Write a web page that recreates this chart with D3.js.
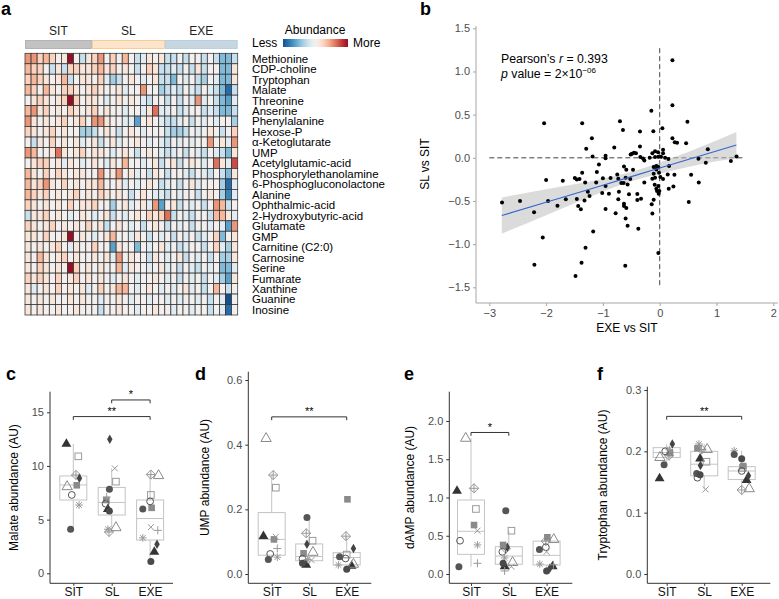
<!DOCTYPE html>
<html><head><meta charset="utf-8">
<script src="https://cdn.jsdelivr.net/npm/d3@7"></script>
<style>body{margin:0;background:#fff} svg{display:block;font-family:"Liberation Sans",Arial,Helvetica,sans-serif}</style>
</head><body><svg id="fig" width="779" height="599"></svg>
<script>
// ---------------- DATA ----------------
const groups = ["SIT", "SL", "EXE"];
const groupSizes = [11, 12, 12];
const metabolites = ["Methionine","CDP-choline","Tryptophan","Malate","Threonine","Anserine","Phenylalanine","Hexose-P","\u03b1-Ketoglutarate","UMP","Acetylglutamic-acid","Phosphorylethanolamine","6-Phosphogluconolactone","Alanine","Ophthalmic-acid","2-Hydroxybutyric-acid","Glutamate","GMP","Carnitine (C2:0)","Carnosine","Serine","Fumarate","Xanthine","Guanine","Inosine"];
const heatValues = [
 [2,2,1,1.5,1,0,0.5,4,0,-1,0.5, 1,2,0,1,0,1.5,0,-1,-0.5,0.5,0,0.5, -1,-1,0,-1,0,0,-1,0,-1,-2,-2,-1],
 [1.5,1,1,0,-1,0.5,-1,1,1,0.5,0.5, 1,1.5,0.5,1,0,0.5,0,-1,0,1,0.5,-1, -1,-0.5,-1,0,-1,0.5,-1,0,0,-2,-2,0.5],
 [1,1.5,1,0.5,0,0.5,1.5,-1,0,0.5,0.5, 0,1,-0.5,-1.5,-1,0,0.5,0,-0.5,0,0.5,-1, -1,-2,0,-0.5,0,-1,-1.5,0,-0.5,-2,-2,0.5],
 [1.5,1,0,1.5,0.5,0,1,1,0.5,0,0.5, 1,0.5,0,0,0.5,-0.5,0,0,2,0,0,-1.5, -1,-0.5,-1,0,-0.5,-1,0,-0.5,-1,-2,-3.5,-1],
 [0,0.5,1,0.5,0,0.5,1,4,1,0,0.5, 0.5,0,-0.5,0,0.5,0,0.5,0,-0.5,-1,0,0, -1,0,-1,0,-0.5,2,-0.5,0,-1,-2,-2.5,-0.5],
 [1.5,2,0.5,1,0,0.5,0,1,0.5,0,0.5, 1,0,0.5,0,0,-0.5,0,0,-0.5,0.5,2.5,-0.5, -0.5,0,-1,-0.5,0,0,-1,-0.5,-1,-2,-2,-1],
 [2,0.5,0,0.5,0,0.5,1,0,0.5,1,0, 2,2,0.5,0,0,-0.5,-0.5,-2.5,0,0.5,0,-0.5, -1,-1,-0.5,0,-1,0,-0.5,0,-0.5,0,0,-1.5],
 [1,0.5,0,0.5,1,0,0.5,0,0,-1.5,-1.5, -1,0,0.5,0,-1,0,0.5,0,-0.5,0,0,0, -1,-1.5,-1.5,-1,0,-0.5,0,0.5,0,-1,0,1],
 [0,-1,0.5,0,1,0,0.5,0,0.5,-0.5,0, 0.5,-1,0,0.5,-0.5,0,0,0.5,0,-0.5,0,-0.5, -1,0,-0.5,0,-0.5,0,0,2,0,0.5,-0.5,2],
 [2,1.5,0,0,0.5,2.5,0.5,0,0.5,1,0, 0.5,0.5,0,-0.5,0,0.5,0,-1,0,0.5,0,-0.5, -1,-0.5,0,-1,0,-0.5,-1,0,-0.5,-1,-2,0.5],
 [0,0.5,1,1,0,0.5,-0.5,0.5,0,-0.5,0, 0.5,0,-0.5,0.5,0,1.5,0,0,-0.5,0,0.5,-1, 0,0.5,-1,0,0.5,0,-0.5,0,2.5,0.5,-0.5,3],
 [1.5,0.5,0,1,0,1,0.5,0,0.5,0.5,0, 0,2,0,0.5,2,0,0.5,-0.5,0,-1,0.5,0, -1,0,0,-0.5,-1,0,-0.5,-1,0,-1,-2,0.5],
 [1.5,0.5,1,2,0.5,0,1,0,0.5,0,0.5, 0.5,1.5,0,0,0.5,-0.5,0,-0.5,0,0.5,0,-1, -0.5,0,-1,0,0.5,-0.5,0,0,0,-1.5,-3.5,-0.5],
 [1.5,1,0.5,1,0,0.5,0,0.5,1,0,0.5, 0,1,0.5,0,0.5,0,-1,0,0.5,0,-0.5,-0.5, -1,0,-0.5,0,0,-1,0,0.5,0,-1.5,-3,-0.5],
 [1,0.5,0,0.5,0,0.5,0,1,0,0.5,0.5, 1,0,0,-1.5,0,0.5,-0.5,0,0.5,-0.5,2,-2.5, 0,0.5,-1,0,-0.5,0,-1,0,2,1.5,-1,0],
 [-1,0.5,0.5,1,0,0.5,0,-0.5,0,0.5,0, -0.5,0,0.5,-1,0,-0.5,0,0.5,0,1,0.5,1, 2.5,-1,0,-0.5,-1,0,0,-1,1.5,1.5,0.5,-0.5],
 [1,0.5,0,0.5,1,0,0.5,0,0.5,0,1, 0,0.5,-1,0,0.5,0,-0.5,0,-1,0,0.5,0, -1,0,-0.5,0,-1,0,0,-0.5,0,-0.5,-2.5,2],
 [0.5,0.5,0,1,0,0,0.5,4,0,0.5,0, -0.5,0,0.5,1.5,0,0,-0.5,0.5,0,-1,0,-0.5, 0,-1,0,-0.5,0,-1,-0.5,0,1,-2,0,0.5],
 [0.5,0,0.5,0,0.5,1,0,-0.5,0.5,0,0, 1,0,0,-2.5,0.5,0,0,-2,0,-0.5,0,0.5, -0.5,0,-1,-0.5,0,0,-1,0,1,-0.5,-1.5,0.5],
 [0.5,0,1.5,0.5,0,0.5,1,0,0.5,0,0, 0.5,0,0.5,-0.5,2,0,0.5,0,0,-1,0.5,0, -0.5,0,0.5,-1,0,-0.5,0,-1,0,-1.5,-1.5,0.5],
 [0.5,0,1,0.5,0,0.5,0,4,1,0,0.5, 0,0.5,0,0,1.5,-0.5,0.5,0,0,-0.5,0,0.5, -0.5,0,-1,0,-0.5,-1,0,-0.5,0,-2,-2,-0.5],
 [1,0.5,1,0.5,0,1,0,0.5,1,0,0.5, 0,0.5,0,-0.5,0,0.5,0,-0.5,0,0,0.5,0, -0.5,0,-1,0,-0.5,0,-1,0,-0.5,-1.5,-2.5,0.5],
 [0.5,-0.5,0,0.5,0,1,0,0.5,0,0.5,-0.5, 0,1,0,0.5,1.5,1.5,0,-0.5,0,0.5,0,-0.5, 0,-0.5,0,0.5,-0.5,0,-1,0,1.5,0,-1,0],
 [0.5,0,0.5,0,0.5,0,0,0.5,0,0.5,0, 0,-0.5,0,0,0.5,0,-0.5,0,0,-0.5,0,0, -0.5,0,-0.5,0,0,-0.5,0,-1,0,-0.5,-4,0],
 [0.5,0,0.5,0,0,0.5,0,0,0.5,0,0, 0,-1,0,0,0.5,0,0,-0.5,0,0,0.5,0, 0,-0.5,0,0,-0.5,0,0,-1,0,-0.5,-3.5,0]
];

// scatter (EXE vs SIT, SL vs SIT)
const scatterX = [0.224,0.224,-0.147,-2.035,-1.365,-0.70,0.488,-0.647,-0.347,-0.112,0.047,-1.194,0.224,0.265,0.306,0.465,-1.294,-0.8,-0.347,0.847,-0.488,-0.453,-0.418,-0.512,-0.129,-0.082,-0.029,0.059,0.059,-1.182,-0.953,-0.953,-0.341,-0.176,-0.082,-0.024,0.024,0.094,0.153,-0.271,-0.294,-1.07,-0.629,-0.588,-0.47,-0.106,-0.059,0.165,0.682,0.812,1.253,1.353,-1.106,-1.365,-2.0,-1.706,-1.494,-1.459,-1.412,-1.312,-1.118,-1.0,-0.953,-0.865,-0.747,-0.729,-0.676,-0.635,-0.565,-0.6,-0.518,-0.271,-0.129,-0.106,-0.082,-0.059,-0.024,-0.012,0.012,0.059,-0.088,-0.024,-0.059,-0.047,-0.006,-0.018,-0.106,-0.141,-0.129,0.141,0.259,0.159,0.241,0.553,0.688,0.512,-1.265,-1.235,-1.012,-0.894,-0.718,-0.541,-0.394,-0.394,-0.329,-0.729,-0.629,-0.629,-0.588,-0.776,-0.953,-0.6,-0.565,-0.376,-2.776,-2.459,-1.965,-2.212,-1.8,-1.653,-1.459,-1.324,-1.435,-1.388,-1.171,-2.059,-1.306,-1.376,-2.206,-1.482,-0.606,-0.024];
const scatterY = [1.131,0.608,0.546,0.40,0.40,0.423,0.419,0.323,0.304,0.308,0.342,0.227,0.227,0.181,0.173,0.169,0.104,0.119,0.131,0.10,0.046,0.058,0.054,0.038,0.054,0.077,0.065,0.092,0.054,0.015,0.023,-0.004,0.008,0.0,0.008,0.012,0.012,0.0,-0.015,-0.03,-0.008,-0.077,-0.1,-0.138,-0.138,-0.108,-0.096,-0.096,-0.012,-0.058,-0.038,0.015,-0.165,-0.173,-0.258,-0.265,-0.235,-0.25,-0.246,-0.285,-0.285,-0.238,-0.327,-0.235,-0.192,-0.242,-0.292,-0.292,-0.308,-0.231,-0.246,-0.285,-0.242,-0.185,-0.231,-0.135,-0.108,-0.173,-0.223,-0.246,-0.312,-0.327,-0.358,-0.385,-0.385,-0.415,-0.485,-0.538,-0.646,-0.192,-0.196,-0.358,-0.331,-0.196,-0.285,-0.512,-0.392,-0.442,-0.408,-0.415,-0.392,-0.423,-0.419,-0.488,-0.473,-0.481,-0.531,-0.558,-0.581,-0.642,-0.592,-0.704,-0.788,-0.823,-0.519,-0.5,-0.5,-0.631,-0.554,-0.481,-0.477,-0.496,-0.558,-0.596,-0.854,-0.923,-1.042,-1.215,-1.238,-1.369,-1.25,-1.104];
const fitX  = [-2.78,-2,-1,-0.5,0,1,1.35];
const fitY  = [-0.669,-0.515,-0.317,-0.218,-0.119,0.079,0.148];
const fitLo = [-0.879,-0.665,-0.392,-0.273,-0.184,-0.041,-0.002];
const fitHi = [-0.459,-0.365,-0.242,-0.163,-0.054,0.199,0.298];

// box panels: one value per subject (shape), null = not shown
const subjects = ["triF","sqO","dmP","dmF","triO","sqF","cirO","ast","cirF","x","plus","cirF2"];
const malateSIT = [12.05,10.9,9.16,8.85,8.07,8.2,7.3,6.36,4.1,null,null,null];
const malateSL  = [5.97,8.54,3.85,12.5,4.25,6.83,6.49,4.1,7.82,9.78,7.1,5.8];
const malateEXE = [2.0,7.3,9.2,2.7,9.1,6.1,6.7,3.3,6.0,4.3,4.0,1.1];
const malateJitter = [[-0.18,0.13,0.07,0.16,-0.16,0.09,-0.04,0.15,-0.07,0,0,0],[-0.1,0.11,-0.07,-0.05,0.11,-0.14,-0.16,-0.1,-0.06,0.08,-0.13,-0.06],[0.11,0.02,0.02,0.18,0.22,0.04,0,-0.19,-0.19,0.02,0.2,0.02]];
const malateBox = [[6.83,8.23,9.07,4.1,12.05],[5.43,6.6,8.0,3.85,9.78],[3.1,5.1,6.83,1.1,9.2]]; // q1, median, q3, lower, upper
const umpSIT = [0.117,0.267,0.306,null,0.419,0.107,0.062,0.052,0.045,0.115,0.079,null];
const umpSL  = [0.028,0.103,0.126,0.092,0.067,0.064,0.047,0.045,0.175,0.043,null,0.033];
const umpEXE = [0.025,0.06,0.117,0.079,0.03,0.231,0.048,0.028,0.053,null,null,0.015];
const umpJitter = [[-0.22,0.11,0.04,0,-0.15,0.06,-0.04,0.15,-0.09,0.11,0.15,0],[-0.08,0.09,-0.08,-0.06,0.1,-0.15,-0.18,-0.05,-0.06,0.06,0,-0.18],[0.13,0,-0.02,0.18,0.18,0.02,-0.03,-0.22,-0.19,0,0,0]];
const umpBox = [[0.058,0.107,0.19,0.045,0.306],[0.041,0.054,0.093,0.028,0.175],[0.028,0.051,0.066,0.015,0.117]];
const dampSIT = [1.085,0.85,1.12,null,1.774,0.64,0.435,0.38,0.096,0.566,0.14,null];
const dampSL  = [0.10,0.566,0.33,0.35,0.15,0.38,0.29,0.21,0.828,0.096,0.04,0.14];
const dampEXE = [0.10,null,0.43,0.08,0.45,0.48,0.35,0.13,0.32,0.29,0.12,0.04];
const dampJitter = [[-0.37,0.13,0.08,0,-0.14,0.08,-0.29,0.17,-0.32,0.17,0.17,0],[-0.11,0.07,-0.08,-0.04,0.1,-0.15,-0.17,-0.11,-0.08,0.07,-0.11,-0.15],[0.16,0,-0.02,0.09,0.19,0.02,-0.02,-0.18,-0.19,0,0.18,0]];
const dampBox = [[0.257,0.558,0.967,0.096,1.774],[0.127,0.235,0.357,0.04,0.566],[0.118,0.244,0.43,0.04,0.48]];
const trpSIT = [0.156,null,0.193,0.212,0.19,0.197,0.20,0.203,0.178,null,null,null];
const trpSL  = [0.188,0.183,0.203,0.177,0.203,0.205,0.157,0.212,0.164,0.138,null,0.162];
const trpEXE = [0.153,0.173,0.137,0.16,0.139,0.176,0.168,0.201,0.195,null,null,0.188];
const trpJitter = [[-0.19,0,0.06,0.15,-0.18,0.09,-0.04,0.07,-0.07,0,0,0],[-0.11,0.06,-0.07,-0.1,0.08,-0.18,-0.18,-0.14,-0.2,0.04,0,-0.11],[0.13,0.03,0,0.18,0.2,0.04,0,-0.2,-0.2,0,0,0]];
const trpBox = [[0.19,0.198,0.206,0.178,0.212],[0.16,0.179,0.2,0.138,0.212],[0.154,0.168,0.175,0.137,0.201]];

// ---------------- DRAW ----------------
const svg = d3.select("#fig");
const TXT = "#4d4d4d";

function letter(t, x, y) {
  svg.append("text").attr("x", x).attr("y", y).attr("font-size", 18).attr("font-weight", "bold").attr("fill", "#000").text(t);
}

// ---- panel a: heatmap
(function () {
  const nCol = d3.sum(groupSizes);
  const hx = d3.scaleBand().domain(d3.range(nCol)).range([25, 237.7]);
  const hy = d3.scaleBand().domain(metabolites).range([53.3, 315]);
  const col = v => d3.interpolateRdBu(0.5 - v * 0.11);
  const g = svg.append("g");
  metabolites.forEach((m, i) => {
    heatValues[i].forEach((v, j) => {
      g.append("rect").attr("x", hx(j)).attr("y", hy(m)).attr("width", hx.bandwidth()).attr("height", hy.bandwidth())
        .attr("fill", col(v)).attr("stroke", "#333").attr("stroke-width", 0.75);
    });
    g.append("text").attr("x", 252).attr("y", hy(m) + hy.bandwidth() / 2).attr("dy", "0.36em")
      .attr("font-size", 11.5).attr("fill", "#000").text(m);
  });
  const annFill = ["#c2c2c2", "#fde5cd", "#c8d6e0"], annStroke = ["#a8a8a8", "#f6c382", "#a9cbe6"];
  let start = 0;
  groups.forEach((gr, k) => {
    const x0 = hx(start), x1 = hx(start + groupSizes[k] - 1) + hx.bandwidth();
    g.append("rect").attr("x", x0 + 0.5).attr("y", 40.5).attr("width", x1 - x0 - 1).attr("height", 8)
      .attr("fill", annFill[k]).attr("stroke", annStroke[k]).attr("stroke-width", 0.8);
    g.append("text").attr("x", (x0 + x1) / 2).attr("y", 35).attr("text-anchor", "middle").attr("font-size", 12).attr("fill", "#222").text(gr);
    start += groupSizes[k];
  });
  // legend
  const defs = svg.append("defs");
  const lg = defs.append("linearGradient").attr("id", "abund");
  d3.range(0, 1.0001, 0.05).forEach(t => lg.append("stop").attr("offset", t).attr("stop-color", col(-4 + 8 * t)));
  g.append("rect").attr("x", 283).attr("y", 39).attr("width", 65).attr("height", 8).attr("fill", "url(#abund)");
  g.append("text").attr("x", 315).attr("y", 34).attr("text-anchor", "middle").attr("font-size", 12).text("Abundance");
  g.append("text").attr("x", 252).attr("y", 47).attr("font-size", 12).text("Less");
  g.append("text").attr("x", 353).attr("y", 47).attr("font-size", 12).text("More");
  letter("a", 1, 15);
})();

// ---- panel b: scatter
(function () {
  const x = d3.scaleLinear().domain([-3, 2]).range([489.3, 773.3]);
  const y = d3.scaleLinear().domain([-1.5, 1.5]).range([287.3, 28.3]);
  const g = svg.append("g");
  const L = 476, B = 303;
  const ax = g.append("g").attr("transform", `translate(0,${B})`).call(d3.axisBottom(x).ticks(6).tickSize(3).tickSizeOuter(0).tickFormat(d3.format("d")));
  const ay = g.append("g").attr("transform", `translate(${L},0)`).call(d3.axisLeft(y).tickValues([-1.5,-1,-0.5,0,0.5,1,1.5]).tickSize(3).tickSizeOuter(0).tickFormat(d3.format(".1f")));
  [ax, ay].forEach(a => {
    a.select(".domain").remove();
    a.selectAll("line").attr("stroke", "#a6a6a6");
    a.selectAll("text").attr("fill", TXT).attr("font-size", 11).attr("font-family", null);
  });
  ax.selectAll("text").text(d => d < 0 ? "\u2212" + Math.abs(d) : d);
  ay.selectAll("text").text(d => d < 0 ? "\u2212" + d3.format(".1f")(Math.abs(d)) : d3.format(".1f")(d));
  g.append("line").attr("x1", L).attr("x2", L).attr("y1", 26).attr("y2", B).attr("stroke", "#a6a6a6");
  g.append("line").attr("x1", L).attr("x2", 778).attr("y1", B).attr("y2", B).attr("stroke", "#a6a6a6");
  // reference dashed lines
  g.append("line").attr("x1", x(-3)).attr("x2", x(1.5)).attr("y1", y(0)).attr("y2", y(0)).attr("stroke", "#444").attr("stroke-dasharray", "5,3");
  g.append("line").attr("x1", x(0)).attr("x2", x(0)).attr("y1", y(1.27)).attr("y2", y(-1.5)).attr("stroke", "#444").attr("stroke-dasharray", "5,3");
  // confidence band
  const band = fitX.map((v, i) => ({ x: v, lo: fitLo[i], hi: fitHi[i], m: fitY[i] }));
  g.append("path").datum(band).attr("fill", "#bdbdbd").attr("fill-opacity", 0.55)
    .attr("d", d3.area().curve(d3.curveMonotoneX).x(d => x(d.x)).y0(d => y(d.lo)).y1(d => y(d.hi)));
  // points
  scatterX.forEach((v, i) => g.append("circle").attr("cx", x(v)).attr("cy", y(scatterY[i])).attr("r", 2).attr("fill", "#000"));
  g.append("path").datum(band).attr("fill", "none").attr("stroke", "#3366cc").attr("stroke-width", 1.1)
    .attr("d", d3.line().x(d => x(d.x)).y(d => y(d.m)));
  // annotation
  const t1 = g.append("text").attr("x", 501).attr("y", 63).attr("font-size", 12.3);
  t1.append("tspan").text("Pearson\u2019s ");
  t1.append("tspan").attr("font-style", "italic").text("r");
  t1.append("tspan").text(" = 0.393");
  const t2 = g.append("text").attr("x", 501).attr("y", 78).attr("font-size", 12.3);
  t2.append("tspan").attr("font-style", "italic").text("p");
  t2.append("tspan").text(" value = 2\u00d710");
  t2.append("tspan").attr("font-size", 8).attr("dy", -5).text("\u221206");
  g.append("text").attr("x", 627).attr("y", 332).attr("text-anchor", "middle").attr("font-size", 12).text("EXE vs SIT");
  g.append("text").attr("transform", "translate(429,164) rotate(-90)").attr("text-anchor", "middle").attr("font-size", 12).text("SL vs SIT");
  letter("b", 420, 15);
})();

// ---- shapes
function drawShape(g, type, cx, cy) {
  const s = g.append("g").attr("transform", `translate(${cx},${cy})`);
  const line = (x1, y1, x2, y2, c) => s.append("line").attr("x1", x1).attr("y1", y1).attr("x2", x2).attr("y2", y2).attr("stroke", c).attr("stroke-width", 1);
  switch (type) {
    case "triF": s.append("path").attr("d", d3.symbol(d3.symbolTriangle, 42)()).attr("fill", "#333"); break;
    case "triO": s.append("path").attr("d", d3.symbol(d3.symbolTriangle, 46)()).attr("fill", "none").attr("stroke", "#8a8a8a"); break;
    case "sqO": s.append("rect").attr("x", -3.3).attr("y", -3.3).attr("width", 6.6).attr("height", 6.6).attr("fill", "none").attr("stroke", "#9a9a9a"); break;
    case "sqF": s.append("rect").attr("x", -3.3).attr("y", -3.3).attr("width", 6.6).attr("height", 6.6).attr("fill", "#8a8a8a"); break;
    case "cirO": s.append("circle").attr("r", 3.4).attr("fill", "none").attr("stroke", "#555"); break;
    case "cirF": s.append("circle").attr("r", 3.5).attr("fill", "#555"); break;
    case "cirF2": s.append("circle").attr("r", 3.5).attr("fill", "#4a4a4a"); break;
    case "dmF": s.append("path").attr("d", d3.symbol(d3.symbolDiamond, 26)()).attr("fill", "#444"); break;
    case "dmP": s.append("path").attr("d", "M0,-4.6L4.6,0L0,4.6L-4.6,0Z").attr("fill", "none").attr("stroke", "#999");
      line(-4.6, 0, 4.6, 0, "#999"); line(0, -4.6, 0, 4.6, "#999"); break;
    case "ast": line(-3.8, 0, 3.8, 0, "#999"); line(0, -3.8, 0, 3.8, "#999"); line(-2.8, -2.8, 2.8, 2.8, "#999"); line(-2.8, 2.8, 2.8, -2.8, "#999"); break;
    case "x": line(-3, -3, 3, 3, "#999"); line(-3, 3, 3, -3, "#999"); break;
    case "plus": line(-4, 0, 4, 0, "#999"); line(0, -4, 0, 4, "#999"); break;
  }
}

// ---- box panels
function boxPanel(p) {
  const g = svg.append("g");
  const B = 583.3;
  const y = d3.scaleLinear().domain(p.yDom).range(p.yRng);
  const x = d3.scalePoint().domain(groups).range([p.axisX + p.first, p.axisX + p.first + 2 * p.step]);
  const ay = g.append("g").attr("transform", `translate(${p.axisX},0)`)
    .call(d3.axisLeft(y).tickValues(p.ticks).tickSize(3).tickSizeOuter(0).tickFormat(d3.format(p.fmt)));
  const ax = g.append("g").attr("transform", `translate(0,${B})`).call(d3.axisBottom(x).tickSize(2.5).tickSizeOuter(0));
  [ax, ay].forEach(a => { a.select(".domain").remove(); a.selectAll("line").attr("stroke", "#333"); a.selectAll("text").attr("font-family", null); });
  ay.selectAll("text").attr("fill", TXT).attr("font-size", 11);
  ax.selectAll("text").attr("fill", "#111").attr("font-size", 12).attr("y", 13.2).attr("dy", 0);
  g.append("line").attr("x1", p.axisX).attr("x2", p.axisX).attr("y1", p.top).attr("y2", B).attr("stroke", "#333");
  g.append("line").attr("x1", p.axisX).attr("x2", p.axisX + 123).attr("y1", B).attr("y2", B).attr("stroke", "#333");
  const hw = 13.5, bc = "#c4c4c4";
  groups.forEach((gr, i) => {
    const s = p.box[i], cx = x(gr);
    g.append("line").attr("x1", cx).attr("x2", cx).attr("y1", y(s[4])).attr("y2", y(s[2])).attr("stroke", bc);
    g.append("line").attr("x1", cx).attr("x2", cx).attr("y1", y(s[0])).attr("y2", y(s[3])).attr("stroke", bc);
    g.append("rect").attr("x", cx - hw).attr("y", y(s[2])).attr("width", 2 * hw).attr("height", y(s[0]) - y(s[2]))
      .attr("fill", "none").attr("stroke", bc);
    g.append("line").attr("x1", cx - hw).attr("x2", cx + hw).attr("y1", y(s[1])).attr("y2", y(s[1])).attr("stroke", bc);
  });
  groups.forEach((gr, i) => {
    p.vals[i].forEach((v, k) => { if (v != null) drawShape(g, subjects[k], x(gr) + p.jit[i][k] * p.step, y(v)); });
  });
  p.brackets.forEach(b => {
    const x1 = x(b[0]), x2 = x(b[1]), yy = y(b[2]);
    g.append("path").attr("d", `M${x1},${yy + 3.3}V${yy}H${x2}V${yy + 3.3}`).attr("fill", "none").attr("stroke", "#333");
    g.append("text").attr("x", (x1 + x2) / 2).attr("y", yy - 1.5).attr("text-anchor", "middle").attr("font-size", 11).attr("fill", "#000").text(b[3]);
  });
  g.append("text").attr("transform", `translate(${p.labX},${(p.top + B) / 2}) rotate(-90)`).attr("dy", "0.35em")
    .attr("text-anchor", "middle").attr("font-size", 12).attr("fill", "#000").text(p.label);
  letter(p.letter, p.letX, 380);
}

boxPanel({ axisX: 50, top: 391.7, yDom: [0, 15], yRng: [573.3, 412.3], ticks: [0, 5, 10, 15], fmt: "d", first: 23.3, step: 38.4,
  vals: [malateSIT, malateSL, malateEXE], jit: malateJitter, box: malateBox,
  brackets: [["SIT", "EXE", 14.6, "**"], ["SL", "EXE", 16.15, "*"]], label: "Malate abundance (AU)", labX: 14, letter: "c", letX: 6 });
boxPanel({ axisX: 248.3, top: 371.7, yDom: [0, 0.6], yRng: [574, 380], ticks: [0, 0.2, 0.4, 0.6], fmt: ".1f", first: 23.4, step: 37.5,
  vals: [umpSIT, umpSL, umpEXE], jit: umpJitter, box: umpBox,
  brackets: [["SIT", "EXE", 0.486, "**"]], label: "UMP abundance (AU)", labX: 205, letter: "d", letX: 195 });
boxPanel({ axisX: 449.3, top: 391.7, yDom: [0, 2], yRng: [574, 421], ticks: [0, 0.5, 1, 1.5, 2], fmt: ".1f", first: 21.7, step: 37.8,
  vals: [dampSIT, dampSL, dampEXE], jit: dampJitter, box: dampBox,
  brackets: [["SIT", "SL", 1.85, "*"]], label: "dAMP abundance (AU)", labX: 410, letter: "e", letX: 404 });
boxPanel({ axisX: 647.3, top: 386.7, yDom: [0, 0.3], yRng: [574, 390], ticks: [0, 0.1, 0.2, 0.3], fmt: ".1f", first: 19.4, step: 37.5,
  vals: [trpSIT, trpSL, trpEXE], jit: trpJitter, box: trpBox,
  brackets: [["SIT", "EXE", 0.257, "**"]], label: "Tryptophan abundance (AU)", labX: 603, letter: "f", letX: 597 });
</script></body></html>
